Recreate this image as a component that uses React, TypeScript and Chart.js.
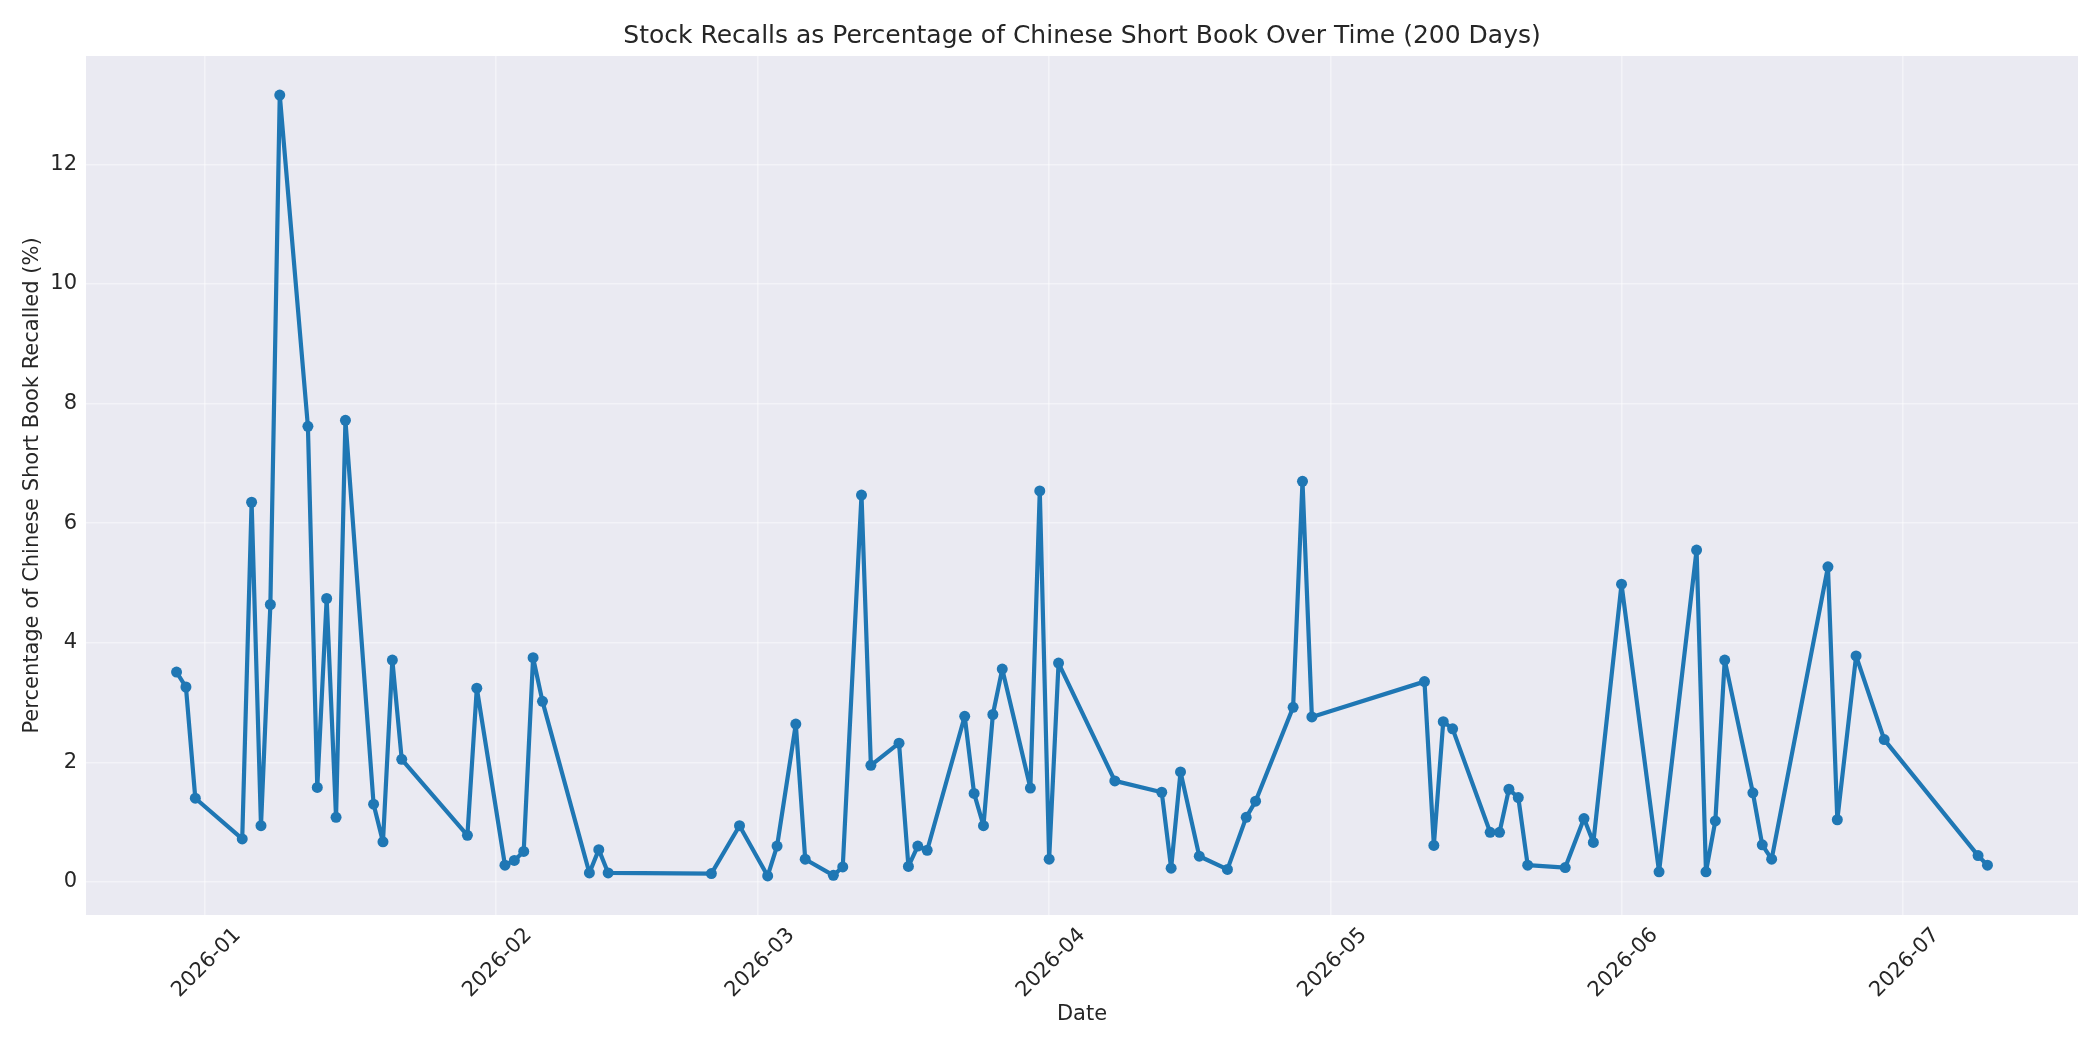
import { useEffect, useRef } from "react";
import Chart from "chart.js/auto";

const dates = [
  "2025-12-29", "2025-12-30", "2025-12-31",
  "2026-01-05", "2026-01-06", "2026-01-07", "2026-01-08", "2026-01-09",
  "2026-01-12", "2026-01-13", "2026-01-14", "2026-01-15", "2026-01-16",
  "2026-01-19", "2026-01-20", "2026-01-21", "2026-01-22",
  "2026-01-29", "2026-01-30",
  "2026-02-02", "2026-02-03", "2026-02-04", "2026-02-05", "2026-02-06",
  "2026-02-11", "2026-02-12", "2026-02-13",
  "2026-02-24", "2026-02-27",
  "2026-03-02", "2026-03-03", "2026-03-05", "2026-03-06",
  "2026-03-09", "2026-03-10", "2026-03-12", "2026-03-13",
  "2026-03-16", "2026-03-17", "2026-03-18", "2026-03-19",
  "2026-03-23", "2026-03-24", "2026-03-25", "2026-03-26", "2026-03-27",
  "2026-03-30", "2026-03-31", "2026-04-01", "2026-04-02",
  "2026-04-08",
  "2026-04-13", "2026-04-14", "2026-04-15", "2026-04-17",
  "2026-04-20", "2026-04-22", "2026-04-23",
  "2026-04-27", "2026-04-28", "2026-04-29",
  "2026-05-11", "2026-05-12", "2026-05-13", "2026-05-14",
  "2026-05-18", "2026-05-19", "2026-05-20", "2026-05-21", "2026-05-22",
  "2026-05-26", "2026-05-28", "2026-05-29",
  "2026-06-01", "2026-06-05",
  "2026-06-09", "2026-06-10", "2026-06-11", "2026-06-12",
  "2026-06-15", "2026-06-16", "2026-06-17",
  "2026-06-23", "2026-06-24", "2026-06-26", "2026-06-29",
  "2026-07-09", "2026-07-10",
];

const recallPct = [
  3.51, 3.26, 1.40,
  0.72, 6.35, 0.94, 4.64, 13.16,
  7.62, 1.58, 4.74, 1.08, 7.72,
  1.30, 0.67, 3.71, 2.05,
  0.78, 3.24,
  0.28, 0.36, 0.51, 3.75, 3.02,
  0.15, 0.54, 0.15,
  0.14, 0.94,
  0.10, 0.60, 2.64, 0.38,
  0.11, 0.25, 6.47, 1.95,
  2.32, 0.26, 0.60, 0.53,
  2.77, 1.48, 0.94, 2.80, 3.56,
  1.57, 6.54, 0.38, 3.66,
  1.69,
  1.50, 0.23, 1.84, 0.43,
  0.21, 1.08, 1.35,
  2.92, 6.70, 2.76,
  3.35, 0.61, 2.68, 2.56,
  0.83, 0.83, 1.55, 1.41, 0.28,
  0.24, 1.06, 0.66,
  4.98, 0.17,
  5.55, 0.17, 1.02, 3.71,
  1.49, 0.62, 0.38,
  5.27, 1.04, 3.78, 2.38,
  0.44, 0.28,
];

const monthTicks = ["2026-01", "2026-02", "2026-03", "2026-04", "2026-05", "2026-06", "2026-07"];
const yTicks = [0, 2, 4, 6, 8, 10, 12];

const TITLE = "Stock Recalls as Percentage of Chinese Short Book Over Time (200 Days)";

const DAY = 86400000;
const ORIGIN = Date.parse("2026-01-01");
const toDay = (d: string) => (Date.parse(d) - ORIGIN) / DAY;

const TEXT = "#262626";
const FONT = "'DejaVu Sans', sans-serif";

export default function App() {
  const ref = useRef<HTMLCanvasElement | null>(null);

  useEffect(() => {
    if (!ref.current) return;
    const xs = dates.map(toDay);
    const tickDays = monthTicks.map((m) => toDay(m + "-01"));
    const xMin = Math.min(...xs);
    const xMax = Math.max(...xs);
    const yMin = Math.min(...recallPct);
    const yMax = Math.max(...recallPct);
    const mx = (xMax - xMin) * 0.05;
    const my = (yMax - yMin) * 0.05;

    // white page + grey axes face, title centred over the plot area (matplotlib style)
    const frame = {
      id: "frame",
      beforeDraw(c: any) {
        const { ctx, chartArea: a } = c;
        ctx.save();
        ctx.fillStyle = "#ffffff";
        ctx.fillRect(0, 0, c.width, c.height);
        ctx.fillStyle = "#EAEAF2";
        ctx.fillRect(a.left, a.top, a.right - a.left, a.bottom - a.top);
        ctx.restore();
      },
      afterDraw(c: any) {
        const { ctx, chartArea: a } = c;
        ctx.save();
        ctx.fillStyle = TEXT;
        ctx.font = `25px ${FONT}`;
        ctx.textAlign = "center";
        ctx.textBaseline = "middle";
        ctx.fillText(TITLE, (a.left + a.right) / 2, 36);
        ctx.restore();
      },
    };

    const c = new Chart(ref.current, {
      type: "line",
      data: {
        datasets: [
          {
            label: "Recall %",
            data: xs.map((x, i) => ({ x, y: recallPct[i] })),
            borderColor: "#1f77b4",
            backgroundColor: "#1f77b4",
            borderWidth: 4.2,
            borderJoinStyle: "round",
            borderCapStyle: "round",
            pointRadius: 5.5,
            pointHoverRadius: 5.5,
            pointBorderWidth: 0,
            tension: 0,
          },
        ],
      },
      options: {
        responsive: false,
        animation: false,
        layout: { padding: { left: 10, right: 22, top: 56, bottom: 10 } },
        plugins: {
          legend: { display: false },
          tooltip: { enabled: false },
          title: { display: false },
        },
        scales: {
          x: {
            type: "linear",
            min: xMin - mx,
            max: xMax + mx,
            afterBuildTicks: (s: any) => {
              s.ticks = tickDays.map((v) => ({ value: v }));
            },
            afterFit: (s: any) => {
              s.height = 125;
            },
            grid: { color: "rgba(255,255,255,0.45)", lineWidth: 1.6, drawTicks: false },
            border: { display: false },
            ticks: {
              autoSkip: false,
              minRotation: 45,
              maxRotation: 45,
              padding: 8,
              labelOffset: 33,
              color: TEXT,
              font: { family: FONT, size: 21 },
              callback: (_v: any, i: number) => monthTicks[i],
            },
            title: {
              display: true,
              text: "Date",
              color: TEXT,
              font: { family: FONT, size: 21 },
              padding: { top: 0, bottom: 12.5 },
            },
          },
          y: {
            type: "linear",
            min: yMin - my,
            max: yMax + my,
            afterBuildTicks: (s: any) => {
              s.ticks = yTicks.map((v) => ({ value: v }));
            },
            afterFit: (s: any) => {
              s.width = 76;
            },
            grid: { color: "rgba(255,255,255,0.45)", lineWidth: 1.6, drawTicks: false },
            border: { display: false },
            ticks: {
              padding: 9,
              color: TEXT,
              font: { family: FONT, size: 21 },
              callback: (v: any) => String(v),
            },
            title: {
              display: true,
              text: "Percentage of Chinese Short Book Recalled (%)",
              color: TEXT,
              font: { family: FONT, size: 21 },
              padding: { top: 9.5, bottom: 0 },
            },
          },
        },
      },
      plugins: [frame],
    });
    return () => c.destroy();
  }, []);

  return (
    <div style={{ position: "fixed", left: 0, top: 0, width: 2100, height: 1050, background: "#fff" }}>
      <canvas ref={ref} width={2100} height={1050} />
    </div>
  );
}
